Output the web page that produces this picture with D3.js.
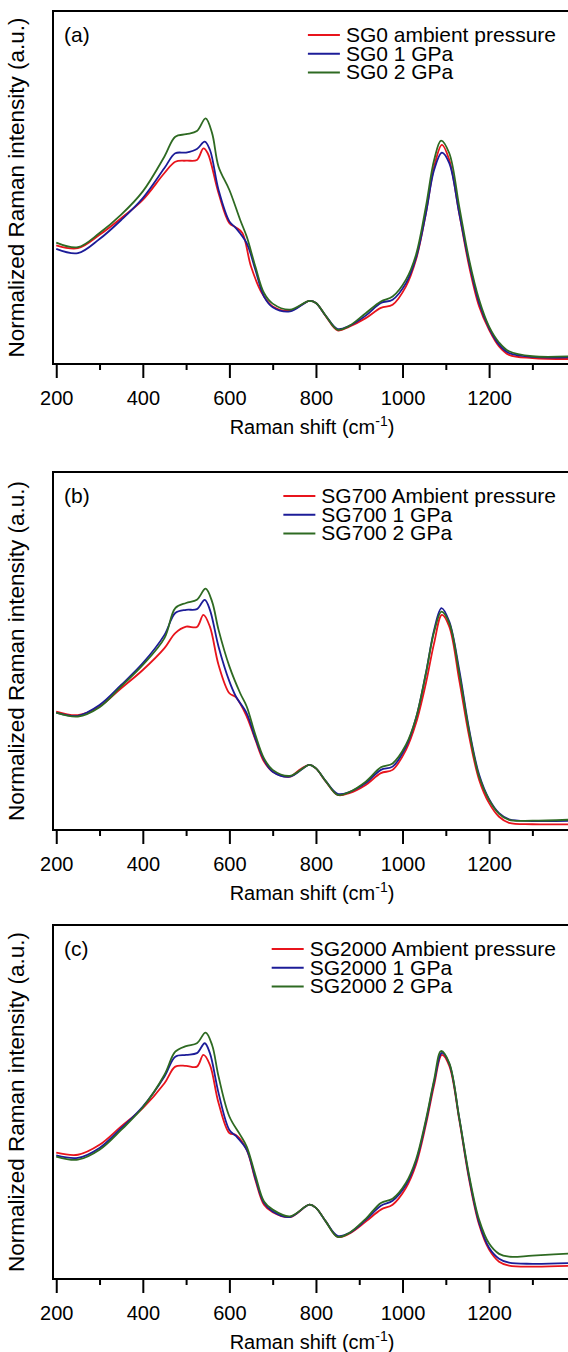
<!DOCTYPE html>
<html>
<head>
<meta charset="utf-8">
<title>Raman spectra under pressure</title>
<script src="https://cdn.jsdelivr.net/npm/d3@7"></script>
<style>
  body { margin: 0; background: #fff; }
  svg { display: block; font-family: "Liberation Sans", Arial, sans-serif; }
  .axis path { display: none; }
  .axis line { stroke: #000; stroke-width: 2; }
  .axis text { font-size: 20px; fill: #000; }
  .frame { fill: none; stroke: #000; stroke-width: 2; }
  .spec { fill: none; stroke-width: 1.8; stroke-linejoin: round; }
  .lbl { font-size: 20px; fill: #000; }
</style>
</head>
<body>
<svg width="568" height="1352"></svg>
<script>
// tick labels on the Raman shift axis
var majorTicks = [200, 400, 600, 800, 1000, 1200];
var minorTicks = [300, 500, 700, 900, 1100, 1300];
var panelTags = ["(a)", "(b)", "(c)"];
var legendA = ["SG0 ambient pressure", "SG0 1 GPa", "SG0 2 GPa"];
var legendB = ["SG700 Ambient pressure", "SG700 1 GPa", "SG700 2 GPa"];
var legendC = ["SG2000 Ambient pressure", "SG2000 1 GPa", "SG2000 2 GPa"];
var colors = ["#e8141c", "#1c1c98", "#2e6a22"];

// [Raman shift, normalized intensity]
var sg0Ambient = [[200,33.6],[250,32.8],[300,36.6],[350,41.3],[400,46.5],[450,54.1],[475,57.3],[500,57.6],[525,57.8],[540,61.1],[550,59.7],[575,48.4],[600,39.9],[615,38.7],[630,37.1],[650,27.6],[675,20.1],[700,16.3],[740,15.1],[785,17.9],[800,17.3],[823,13.5],[850,9.5],[877,10.6],[915,13.0],[950,15.9],[977,16.8],[1008,22.0],[1031,29.5],[1054,42.7],[1073,55.9],[1091,62.1],[1108,57.8],[1131,42.7],[1154,27.6],[1177,16.3],[1200,9.7],[1223,5.0],[1246,2.6],[1300,1.7],[1410,1.4]];
var sg0Gpa1 = [[200,32.6],[250,31.4],[300,35.4],[350,40.8],[400,47.0],[450,55.5],[475,59.7],[500,59.9],[525,60.9],[543,63.0],[555,60.7],[575,49.3],[600,40.4],[615,38.5],[640,34.2],[660,26.7],[680,19.1],[700,16.1],[740,14.9],[785,17.9],[800,17.3],[823,13.6],[850,9.9],[877,10.8],[915,13.7],[950,17.3],[977,18.2],[1008,22.9],[1031,30.0],[1054,42.7],[1073,55.0],[1091,59.9],[1108,56.9],[1131,42.7],[1154,28.6],[1177,17.3],[1200,10.2],[1223,5.5],[1246,3.1],[1300,2.0],[1410,2.0]];
var sg0Gpa2 = [[200,34.4],[250,33.1],[300,37.1],[350,42.3],[400,48.9],[450,58.8],[475,64.4],[500,65.1],[525,66.0],[545,69.6],[560,65.4],[575,55.9],[600,49.3],[625,40.8],[640,36.1],[660,27.6],[680,20.1],[700,17.1],[740,15.4],[785,17.9],[800,17.3],[823,13.6],[850,9.7],[877,10.8],[915,14.4],[950,17.7],[977,19.1],[1008,23.9],[1031,30.9],[1054,44.6],[1073,57.8],[1089,63.3],[1108,59.7],[1131,44.6],[1154,29.5],[1177,18.2],[1200,10.6],[1223,6.1],[1246,3.6],[1300,2.2],[1410,2.3]];

var sg700Ambient = [[200,33.1],[250,32.1],[300,34.5],[350,39.6],[400,44.7],[450,50.8],[475,55.0],[500,56.8],[525,56.7],[540,60.1],[555,56.8],[575,46.1],[600,38.2],[615,37.1],[640,31.7],[660,25.2],[680,19.1],[700,16.3],[740,14.9],[762,16.8],[785,18.2],[800,17.2],[823,13.5],[850,9.8],[877,10.3],[915,12.6],[950,15.9],[977,16.8],[1008,22.4],[1031,29.8],[1054,41.0],[1073,52.2],[1091,60.1],[1108,56.8],[1131,41.9],[1154,26.1],[1177,14.0],[1200,7.5],[1223,3.7],[1246,2.0],[1300,1.6],[1410,1.6]];
var sg700Gpa1 = [[200,32.8],[250,31.9],[300,34.9],[350,40.5],[400,46.6],[450,54.5],[475,60.6],[500,61.5],[525,61.7],[543,64.3],[555,61.5],[575,51.2],[600,41.5],[615,37.3],[640,32.6],[660,25.6],[680,19.6],[700,16.3],[740,14.9],[785,18.2],[800,17.2],[823,13.6],[850,10.1],[877,10.6],[915,13.1],[950,16.8],[977,17.7],[1008,23.3],[1031,31.2],[1054,43.8],[1073,55.9],[1090,62.0],[1108,58.2],[1131,44.7],[1154,28.0],[1177,15.4],[1200,8.6],[1223,4.7],[1246,3.0],[1300,2.5],[1410,2.6]];
var sg700Gpa2 = [[200,32.8],[250,31.7],[300,34.3],[350,40.1],[400,46.1],[450,53.6],[475,62.0],[500,63.4],[525,64.3],[545,67.4],[560,63.8],[575,55.9],[600,45.7],[625,38.2],[640,34.5],[660,26.6],[680,20.0],[700,16.8],[740,15.1],[785,18.2],[800,17.2],[823,13.6],[850,9.8],[877,10.6],[915,13.5],[950,17.5],[977,18.6],[1008,23.8],[1031,31.2],[1054,43.8],[1073,55.4],[1090,61.0],[1108,57.8],[1131,43.8],[1154,27.5],[1177,14.9],[1200,8.4],[1223,4.5],[1246,2.8],[1300,2.6],[1410,3.0]];

var sg2000Ambient = [[200,35.7],[250,35.1],[300,37.9],[350,43.1],[400,48.3],[450,55.3],[475,60.0],[500,60.2],[525,60.0],[540,63.3],[555,60.5],[575,49.7],[600,41.2],[615,40.7],[640,36.5],[660,28.0],[680,21.0],[700,18.9],[740,17.5],[785,21.0],[800,20.1],[823,16.2],[850,11.9],[877,12.8],[915,16.2],[950,19.6],[977,21.0],[1008,25.8],[1031,32.3],[1054,43.6],[1073,54.8],[1091,63.3],[1108,60.2],[1131,45.0],[1154,28.0],[1177,15.3],[1200,8.3],[1223,4.9],[1246,3.8],[1300,3.5],[1410,3.8]];
var sg2000Gpa1 = [[200,34.9],[250,34.2],[300,37.0],[350,42.6],[400,48.7],[450,57.2],[475,62.8],[500,63.3],[525,63.8],[543,66.6],[555,63.8],[575,52.5],[600,42.1],[615,40.4],[640,36.5],[660,28.5],[680,21.5],[700,19.1],[740,17.5],[785,21.0],[800,20.1],[823,16.2],[850,12.2],[877,13.0],[915,16.7],[950,20.7],[977,22.1],[1008,26.6],[1031,33.1],[1054,44.4],[1073,55.7],[1091,63.9],[1108,60.8],[1131,45.5],[1154,28.6],[1177,15.9],[1200,8.8],[1223,5.7],[1246,4.6],[1300,4.3],[1410,4.6]];
var sg2000Gpa2 = [[200,34.6],[250,33.7],[300,36.5],[350,42.1],[400,48.5],[450,57.7],[475,64.2],[500,65.8],[525,66.6],[545,69.6],[560,66.1],[575,57.2],[600,45.9],[625,40.7],[640,37.4],[660,29.4],[680,21.9],[700,19.6],[740,17.7],[785,21.0],[800,20.1],[823,16.2],[850,11.9],[877,13.0],[915,17.0],[950,21.5],[977,22.7],[1008,27.2],[1031,33.7],[1054,45.0],[1073,56.3],[1089,64.4],[1108,61.0],[1131,45.5],[1154,29.2],[1177,16.7],[1200,10.0],[1223,7.1],[1246,6.3],[1300,6.6],[1410,7.4]];

var panels = [
  { tag: panelTags[0], names: legendA, series: [sg0Ambient, sg0Gpa1, sg0Gpa2], top: 11, bottom: 364 },
  { tag: panelTags[1], names: legendB, series: [sg700Ambient, sg700Gpa1, sg700Gpa2], top: 472, bottom: 830 },
  { tag: panelTags[2], names: legendC, series: [sg2000Ambient, sg2000Gpa1, sg2000Gpa2], top: 925, bottom: 1279 }
];

var svg = d3.select("svg");
var left = 53, right = 580;

var x = d3.scaleLinear().domain([192.5, 1410]).range([left, right]);

panels.forEach(function(p) {
  var y = d3.scaleLinear().domain([0, 100]).range([p.bottom, p.top]);
  var g = svg.append("g");

  var line = d3.line()
    .x(function(d) { return x(d[0]); })
    .y(function(d) { return y(d[1]); })
    .curve(d3.curveCatmullRom.alpha(0.5));

  g.selectAll("path.spec")
    .data(p.series)
    .enter()
    .append("path")
    .attr("class", "spec")
    .attr("stroke", function(d, i) { return colors[i]; })
    .attr("d", line);

  // box (right side runs off the page)
  g.append("rect")
    .attr("class", "frame")
    .attr("x", left).attr("y", p.top)
    .attr("width", right - left).attr("height", p.bottom - p.top);

  // major and minor ticks, outside
  g.append("g")
    .attr("class", "axis")
    .attr("transform", "translate(0," + p.bottom + ")")
    .call(d3.axisBottom(x).tickValues(majorTicks).tickSize(14).tickPadding(13).tickFormat(d3.format("d")));
  g.append("g")
    .attr("class", "axis")
    .attr("transform", "translate(0," + p.bottom + ")")
    .call(d3.axisBottom(x).tickValues(minorTicks).tickSize(6).tickFormat(""));

  var title = g.append("text")
    .attr("class", "lbl")
    .attr("x", 312).attr("y", p.bottom + 70)
    .attr("text-anchor", "middle");
  title.append("tspan").text("Raman shift (cm");
  title.append("tspan").attr("dy", -8).style("font-size", "14px").text("-1");
  title.append("tspan").attr("dy", 8).text(")");

  g.append("text")
    .attr("class", "lbl")
    .style("font-size", "22.5px")
    .attr("transform", "translate(24," + ((p.top + p.bottom) / 2) + ") rotate(-90)")
    .attr("text-anchor", "middle")
    .text("Normalized Raman intensity (a.u.)");

  g.append("text")
    .attr("class", "lbl")
    .style("font-size", "21px")
    .attr("x", 64).attr("y", p.top + 31)
    .text(p.tag);

  // legend, right aligned
  var leg = g.append("g");
  var items = leg.selectAll("text")
    .data(p.names)
    .enter()
    .append("text")
    .attr("class", "lbl")
    .style("font-size", "21px")
    .attr("y", function(d, i) { return p.top + 31 + i * 18.7; })
    .text(function(d) { return d; });
  var w = d3.max(items.nodes(), function(n) { return n.getComputedTextLength(); });
  var tx = 556 - w;
  items.attr("x", tx);
  leg.selectAll("line")
    .data(p.names)
    .enter()
    .append("line")
    .attr("x1", tx - 38).attr("x2", tx - 6)
    .attr("y1", function(d, i) { return p.top + 24 + i * 18.7; })
    .attr("y2", function(d, i) { return p.top + 24 + i * 18.7; })
    .attr("stroke", function(d, i) { return colors[i]; })
    .attr("stroke-width", 2);
});
</script>
</body>
</html>
